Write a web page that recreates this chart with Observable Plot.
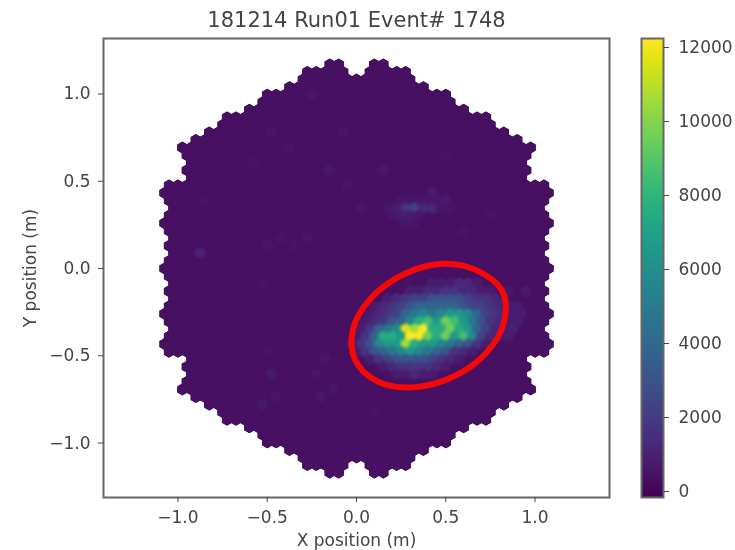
<!DOCTYPE html>
<html><head><meta charset="utf-8">
<style>html,body{margin:0;background:#fff}#c{position:relative;width:735px;height:550px;overflow:hidden}#c svg{position:absolute;left:0;top:0;filter:blur(.6px)}</style>
<script src="https://cdn.jsdelivr.net/npm/d3@7"></script>
<script src="https://cdn.jsdelivr.net/npm/@observablehq/plot@0.6"></script>
</head><body><div id="c"></div>
<script>
const titleText = "181214 Run01 Event# 1748";
const xLabel = "X position (m)", yLabel = "Y position (m)";
const colorMin = -162, colorMax = 12243;
const pitchX = 0.025, pitchY = 0.0433;
const posTicks = [-1,-.5,0,.5,1];
const barTicks = [0,2000,4000,6000,8000,10000,12000];
// camera silhouette: half-width (in half pitches) for rows 27 .. -27
const rowIndex = d3.range(27, -28, -1);
const rowHalfWidth = [6,11,12,15,20,21,24,29,30,33,36,39,38,37,38,37,42,43,42,41,42,43,42,41,42,41,42,43,
  42,41,42,41,42,43,42,41,42,43,42,37,38,37,38,39,36,33,30,29,24,21,20,15,12,11,6];
const gapRows = [27,26,-26,-27], gapHalf = [3,2,2,3];
const baseValue = 330;
// charge levels used in the strings below
const levelChars = "0123456789abcdefgh";
const levelValues = [100,330,550,800,1200,1700,2300,3000,3800,4700,5600,6500,7500,8500,9500,10500,11500,12200];
// bright rows: row, first column, level per cell
const hotRows = [-2,-3,-4,-5,-6,-7,-8,-9,-10,-11,-12,-13,-14,8,7,9,6,10];
const hotStart = [17,12,7,4,3,2,1,0,-1,0,3,6,9,7,8,10,11,17];
const hotLevels = ["333443","3344554433","34566777765543","3456788888766543","345689a9abba86543",
  "34578acdbedb97543","3589agfhccecb8643","358ccbhhecebda643","357abbfcbba98753","35789aba987543",
  "35677776543","34555543","33433","23564422","2332","222223","22","3"];
// isolated lighter cells
const speckRow = [23,18,16,13,13,8,11,18,-14,-18,-17,-12,-14,-17,2,-6,-7,-8,-9,-3,-5,3,4,4,3,14,10,6,-1,-2,12,20,16,0,-10,-16,-20,5,-4,-1,7,9,-19,-11,15,-3];
const speckCol = [-10,-19,-15,-6,6,1,-2,-3,-19,-21,-8,-7,-9,-18,-35,37,36,35,34,38,36,-20,-11,-17,-14,-23,-30,-26,-9,-21,14,-12,8,-30,-28,-5,-10,24,-26,12,30,-34,4,-20,20,34];
const speckVal = [600,600,550,650,650,600,550,550,700,650,600,600,600,550,1000,800,900,1000,800,700,800,550,550,500,500,480,500,480,480,500,480,480,500,500,500,550,500,480,480,480,480,500,480,500,480,650];

const lookup = new Map();
hotRows.forEach((r,i)=>[...hotLevels[i]].forEach((c,j)=>lookup.set(r+","+(hotStart[i]+2*j), levelValues[levelChars.indexOf(c)])));
speckRow.forEach((r,i)=>{const key=r+","+speckCol[i]; if(!lookup.has(key)) lookup.set(key,speckVal[i]);});
const cells = [];
rowIndex.forEach((r,i)=>{
  const E = rowHalfWidth[i], g = gapRows.indexOf(r), gap = g<0 ? -1 : gapHalf[g];
  for(let k=-E;k<=E;k+=2){
    if(Math.abs(k)<=gap) continue;
    cells.push({x:k*pitchX, y:r*pitchY, v:lookup.get(r+","+k) ?? baseValue});
  }
});
const ellipseX = [.817,.827,.726,.538,.315,.114,-.008,-.020,.081,.268,.492,.670];
const ellipseY = [-.130,-.304,-.484,-.622,-.681,-.645,-.523,-.349,-.170,-.031,.027,-.009];
const ellipse = ellipseX.map((x,i)=>({x,y:ellipseY[i]}));
const color = {type:"linear",scheme:"viridis",domain:[colorMin,colorMax]};
const fmt = d=>d3.format(".1f")(d).replace("-","−");
const ink="#444", frameInk="#666";
const main = Plot.plot({
  width:735,height:550,marginLeft:103,marginRight:126,marginTop:38,marginBottom:53,
  style:{background:"transparent",fontFamily:"DejaVu Sans",overflow:"visible",color:ink},
  x:{domain:[-1.417,1.417]},y:{domain:[-1.312,1.318]},color,
  marks:[
    Plot.dot(cells,{x:"x",y:"y",fill:"#2b0b3f",stroke:"#2b0b3f",strokeWidth:1.2,symbol:"hexagon",r:4.6}),
    Plot.dot(cells,{x:"x",y:"y",fill:"v",symbol:"hexagon",r:5.05}),
    Plot.dot(cells.filter(d=>d.v!==baseValue),{x:"x",y:"y",fill:"v",symbol:"hexagon",r:5.05,imageFilter:"blur(1.4px)"}),
    Plot.line(ellipse,{x:"x",y:"y",stroke:"#f50808",strokeWidth:6,curve:"catmull-rom-closed"}),
    Plot.frame({stroke:frameInk,strokeWidth:2}),
    Plot.axisX({ticks:posTicks,tickFormat:fmt,tickSize:5,fontSize:17,tickPadding:8,label:null}),
    Plot.axisY({ticks:posTicks,tickFormat:fmt,tickSize:5,fontSize:17,tickPadding:8,label:null}),
    Plot.text([titleText],{frameAnchor:"top",dy:-18,lineAnchor:"middle",fontSize:21,fill:ink}),
    Plot.text([xLabel],{frameAnchor:"bottom",dy:43,lineAnchor:"middle",fontSize:17,fill:ink}),
    Plot.text([yLabel],{frameAnchor:"left",dx:-73,textAnchor:"middle",rotate:-90,fontSize:17,fill:ink})
  ]});
const stops = d3.range(colorMin,colorMax,27);
const bar = Plot.plot({
  width:735,height:550,marginLeft:641,marginRight:72,marginTop:38,marginBottom:53,
  style:{background:"transparent",fontFamily:"DejaVu Sans",color:ink},
  x:{domain:[0,1],axis:null},y:{domain:[colorMin,colorMax]},color,
  marks:[
    Plot.rect(stops,{x1:0,x2:1,y1:d=>d,y2:d=>Math.min(d+27,colorMax),fill:d=>d,shapeRendering:"crispEdges"}),
    Plot.frame({stroke:frameInk,strokeWidth:2}),
    Plot.axisY({anchor:"right",ticks:barTicks,tickFormat:d=>String(d),tickSize:5,fontSize:17,tickPadding:10,label:null})
  ]});
const c=document.getElementById("c");
c.append(main,bar);
</script></body></html>
